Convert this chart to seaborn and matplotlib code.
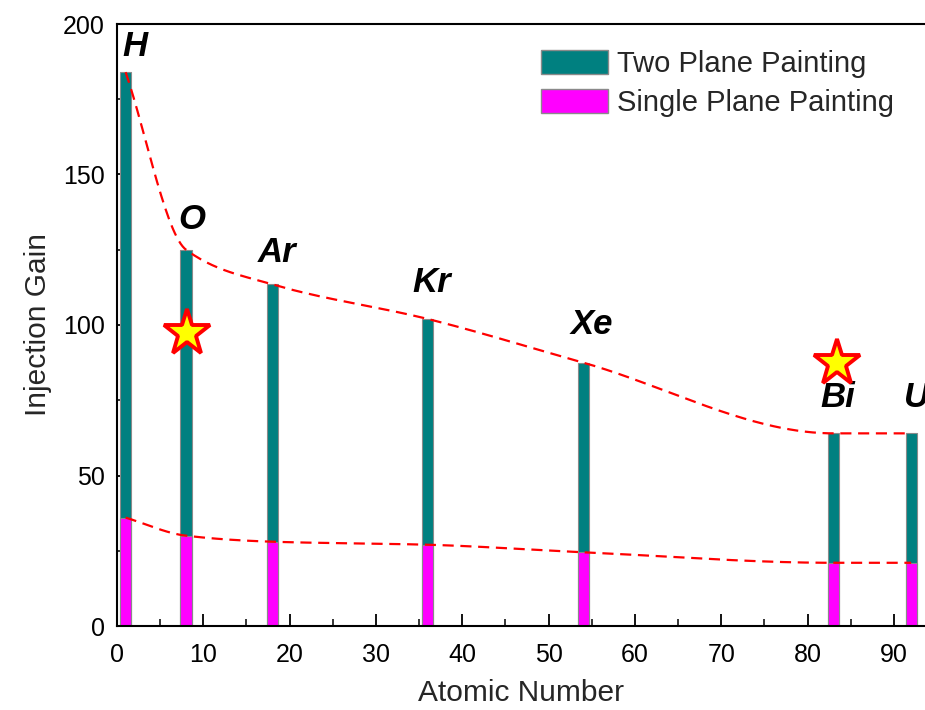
import numpy as np
import pandas as pd
import matplotlib
matplotlib.use("Agg")
import matplotlib.pyplot as plt
from matplotlib.patches import Patch
from matplotlib.ticker import MultipleLocator
import seaborn as sns

# ---- data ----
elements = ["H", "O", "Ar", "Kr", "Xe", "Bi", "U"]
atomic_number = [1, 8, 18, 36, 54, 83, 92]
two_plane = [184, 125, 113.5, 102, 87.5, 64, 64]
single_plane = [36, 30, 28, 27, 24.5, 21, 21]
label_x = [2.1, 8.7, 18.5, 36.5, 55.0, 83.5, 92.6]
label_y = [192.5, 135, 124, 114, 100, 76, 76]
star_x = [8.1, 83.4]
star_y = [97.5, 87.5]

sns.set_style("white")
plt.rcParams["font.family"] = ["Liberation Sans", "DejaVu Sans"]

df = pd.DataFrame({"Z": atomic_number, "two": two_plane, "single": single_plane})

fig = plt.figure(figsize=(9.25, 7.1), dpi=100)
# axes runs to the right edge of the picture (cropped as in the reference)
ax = fig.add_axes([117 / 925, 84 / 710, 808 / 925, 602 / 710])

bw = 1.3 / 7.0
sns.barplot(data=df, x="Z", y="two", native_scale=True, width=bw, color="#008080",
            saturation=1, edgecolor="#8a8a8a", linewidth=0.8, errorbar=None, ax=ax)
sns.barplot(data=df, x="Z", y="single", native_scale=True, width=bw, color="#FF00FF",
            saturation=1, edgecolor="#8a8a8a", linewidth=0.8, errorbar=None, ax=ax)


def pchip(x, y, xs):
    x = np.asarray(x, float)
    y = np.asarray(y, float)
    h = np.diff(x)
    d = np.diff(y) / h
    n = len(x)
    m = np.zeros(n)
    for k in range(1, n - 1):
        if d[k - 1] * d[k] <= 0:
            m[k] = 0
        else:
            w1 = 2 * h[k] + h[k - 1]
            w2 = h[k] + 2 * h[k - 1]
            m[k] = (w1 + w2) / (w1 / d[k - 1] + w2 / d[k])
    m[0] = d[0]
    m[-1] = d[-1]
    out = np.empty_like(xs)
    for i, xv in enumerate(xs):
        k = min(np.searchsorted(x, xv) - 1, n - 2)
        k = max(k, 0)
        t = (xv - x[k]) / h[k]
        h00 = 2 * t**3 - 3 * t**2 + 1
        h10 = t**3 - 2 * t**2 + t
        h01 = -2 * t**3 + 3 * t**2
        h11 = t**3 - t**2
        out[i] = h00 * y[k] + h10 * h[k] * m[k] + h01 * y[k + 1] + h11 * h[k] * m[k + 1]
    return out


xs = np.linspace(atomic_number[0], atomic_number[-1], 400)
curve_df = pd.DataFrame({"x": xs, "upper": pchip(atomic_number, two_plane, xs),
                         "lower": pchip(atomic_number, single_plane, xs)})
sns.lineplot(data=curve_df, x="x", y="upper", ax=ax, color="#FF0000", lw=1.6,
             dashes=False, linestyle=(0, (5, 3)))
sns.lineplot(data=curve_df, x="x", y="lower", ax=ax, color="#FF0000", lw=1.6,
             dashes=False, linestyle=(0, (5, 3)))

ax.plot(star_x, star_y, linestyle="none", marker="*", markersize=35,
        markerfacecolor="#FFFF00", markeredgecolor="#FF0000", markeredgewidth=2.8, zorder=5)

for name, lx, ly in zip(elements, label_x, label_y):
    ax.text(lx, ly, name, fontsize=25, fontweight="bold", fontstyle="italic",
            ha="center", va="center", color="black", clip_on=False)

ax.set_xlim(0, 93.6)
ax.set_ylim(0, 200)
ax.xaxis.set_major_locator(MultipleLocator(10))
ax.xaxis.set_minor_locator(MultipleLocator(5))
ax.yaxis.set_major_locator(MultipleLocator(50))
ax.yaxis.set_minor_locator(MultipleLocator(25))
ax.tick_params(which="major", direction="in", length=9, width=1.3, labelsize=18,
               pad=9, bottom=True, left=True, top=False, right=False, colors="black")
ax.tick_params(axis="x", which="major", pad=12)
ax.tick_params(which="minor", direction="in", length=5, width=1.3,
               bottom=True, left=True, top=False, right=False)
ax.set_xlabel("Atomic Number", fontsize=21.5, labelpad=9)
ax.set_ylabel("Injection Gain", fontsize=21.5, labelpad=8)
for s in ax.spines.values():
    s.set_linewidth(1.5)
    s.set_color("black")
ax.spines["right"].set_visible(False)

handles = [Patch(facecolor="#008080", edgecolor="#8a8a8a", label="Two Plane Painting"),
           Patch(facecolor="#FF00FF", edgecolor="#8a8a8a", label="Single Plane Painting")]
fig.legend(handles=handles, loc="upper left", bbox_to_anchor=(541 / 925, 1 - 50 / 710),
           frameon=False, fontsize=21, handlelength=2.3, handleheight=0.86,
           handletextpad=0.3, labelspacing=0.38, borderpad=0, borderaxespad=0)

fig.savefig("out.png", dpi=100)
